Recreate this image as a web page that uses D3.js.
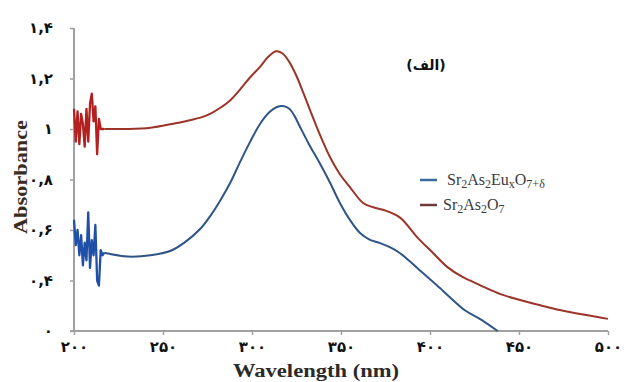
<!DOCTYPE html>
<html>
<head>
<meta charset="utf-8">
<script src="https://cdn.jsdelivr.net/npm/d3@7"></script>
<style>
  body { margin: 0; background: #fff; }
  svg { display: block; }
</style>
</head>
<body>
<svg id="chart" width="624" height="382"></svg>
<script>
// Wavelength (nm) and absorbance
const redWave = [200, 201, 202, 203, 204, 205, 206, 207, 208, 209, 210, 211, 212, 213, 214, 215, 216, 217,
    230, 243, 255, 265, 271, 277, 282, 288, 293, 299, 304.5, 309, 313.5, 317, 321, 325, 329, 332.6, 338, 343.8, 349, 355, 362.4, 368,
    373.6, 383, 392.7, 401.7, 409.6, 418, 428, 440, 450.6, 462, 473, 486, 500];
const redAbs = [1.08, 0.95, 1.07, 0.94, 1.06, 1.02, 0.93, 1.08, 0.95, 1.10, 1.14, 1.03, 1.09, 0.90, 1.04, 1.00, 1.00, 1.00,
    1.00, 1.005, 1.02, 1.035, 1.045, 1.062, 1.083, 1.115, 1.154, 1.205, 1.246, 1.285, 1.308, 1.30, 1.265, 1.21, 1.14, 1.075, 0.98, 0.889, 0.825, 0.77, 0.707, 0.69,
    0.68, 0.65, 0.572, 0.509, 0.454, 0.415, 0.382, 0.345, 0.323, 0.302, 0.283, 0.265, 0.248];

const blueWave = [200, 201, 202, 203, 204, 205, 206, 207, 208, 209, 210, 211, 212, 213, 214, 215, 216, 217,
    230, 243, 255, 262, 271, 277, 282, 288, 293, 299, 304.5, 310, 314, 317.4, 321, 324, 327, 332, 338, 344, 349.4, 355, 360.7, 366, 372, 378,
    383, 388, 394, 400, 405.6, 411, 420, 428, 438];
const blueAbs = [0.64, 0.54, 0.60, 0.50, 0.58, 0.46, 0.55, 0.48, 0.67, 0.45, 0.56, 0.50, 0.62, 0.40, 0.38, 0.52, 0.50, 0.51,
    0.495, 0.50, 0.52, 0.55, 0.605, 0.66, 0.715, 0.79, 0.865, 0.95, 1.02, 1.068, 1.087, 1.091, 1.08, 1.05, 1.008, 0.94, 0.865, 0.785, 0.707, 0.64, 0.588, 0.562, 0.548, 0.53,
    0.509, 0.48, 0.442, 0.405, 0.37, 0.335, 0.28, 0.248, 0.2];

const xTicks = [200, 250, 300, 350, 400, 450, 500];
const xTickLabels = ['۲۰۰', '۲۵۰', '۳۰۰', '۳۵۰', '۴۰۰', '۴۵۰', '۵۰۰'];
const yTicks = [0.2, 0.4, 0.6, 0.8, 1.0, 1.2, 1.4];
const yTickLabels = ['۰', '۰,۴', '۰,۶', '۰,۸', '۱', '۱,۲', '۱,۴'];

const seriesNames = ['Sr2As2EuxO7+δ', 'Sr2As2O7'];

const svg = d3.select('#chart');
const margin = { left: 74, right: 16, top: 28, bottom: 51 };
const width = 624, height = 382;

const x = d3.scaleLinear().domain([200, 500]).range([margin.left, width - margin.right]);
const y = d3.scaleLinear().domain([0.2, 1.4]).range([height - margin.bottom, margin.top]);

const digitFont = '"DejaVu Sans", sans-serif';
const serif = '"Liberation Serif", "Times New Roman", serif';

// Axes
const xAxis = svg.append('g')
    .attr('transform', `translate(0,${y(0.2)})`)
    .call(d3.axisBottom(x).tickValues(xTicks).tickSize(4).tickFormat((d, i) => xTickLabels[i]));
const yAxis = svg.append('g')
    .attr('transform', `translate(${x(200)},0)`)
    .call(d3.axisLeft(y).tickValues(yTicks).tickSize(4).tickFormat((d, i) => yTickLabels[i]));

[xAxis, yAxis].forEach(a => {
    a.select('.domain').attr('stroke', '#a0a0a0').attr('stroke-width', 2);
    a.selectAll('.tick line').attr('stroke', '#a0a0a0').attr('stroke-width', 1.5);
    a.selectAll('.tick text')
        .attr('font-family', digitFont)
        .attr('font-weight', 'bold')
        .attr('font-size', '15px')
        .attr('fill', '#111');
});
xAxis.select('.domain').attr('d', `M${x(200) - 4},0H${x(500)}`);
xAxis.selectAll('.tick text').attr('dy', '0.95em');
yAxis.select('.domain').attr('d', `M0,${y(1.4)}V${y(0.2)}`);
yAxis.selectAll('.tick text').attr('x', -21);

// Lines: noisy start drawn straight, the rest smoothed
const noiseLine = d3.line().x(d => x(d[0])).y(d => y(d[1]));
const smoothLine = d3.line().x(d => x(d[0])).y(d => y(d[1])).curve(d3.curveCatmullRom.alpha(0.5));

const redData = redWave.map((w, i) => [w, redAbs[i]]);
const blueData = blueWave.map((w, i) => [w, blueAbs[i]]);

function drawSeries(data, color, noiseColor) {
    svg.append('path')
        .datum(data.slice(17))
        .attr('fill', 'none')
        .attr('stroke', color)
        .attr('stroke-width', 2)
        .attr('d', smoothLine);
    svg.append('path')
        .datum(data.slice(0, 18))
        .attr('fill', 'none')
        .attr('stroke', noiseColor)
        .attr('stroke-width', 2.3)
        .attr('stroke-linejoin', 'round')
        .attr('d', noiseLine);
}
drawSeries(redData, '#9c3428', '#b41f1f');
drawSeries(blueData, '#2f5588', '#1f4fa6');

// Axis titles
svg.append('text')
    .attr('transform', 'translate(27,177) rotate(-90)')
    .attr('text-anchor', 'middle')
    .attr('font-family', serif)
    .attr('font-weight', 'bold')
    .attr('font-size', '19px')
    .attr('fill', '#3a2c1e')
    .attr('textLength', 114)
    .attr('lengthAdjust', 'spacingAndGlyphs')
    .text('Absorbance');

svg.append('text')
    .attr('x', 316)
    .attr('y', 377)
    .attr('text-anchor', 'middle')
    .attr('font-family', serif)
    .attr('font-weight', 'bold')
    .attr('font-size', '18px')
    .attr('fill', '#2a2a2a')
    .attr('textLength', 166)
    .attr('lengthAdjust', 'spacingAndGlyphs')
    .text('Wavelength (nm)');

// Panel label
svg.append('text')
    .attr('x', 426)
    .attr('y', 70)
    .attr('text-anchor', 'middle')
    .attr('font-family', digitFont)
    .attr('font-weight', 'bold')
    .attr('font-size', '14px')
    .attr('fill', '#111')
    .text('(الف)');

// Legend
const legend = svg.append('g');
const legendRows = [
    { color: '#3d6a9c', y: 180, x: 447, parts: [['Sr', 0], ['2', 1], ['As', 0], ['2', 1], ['Eu', 0], ['x', 1], ['O', 0], ['7+δ', 1]] },
    { color: '#6e3a38', y: 205, x: 443, parts: [['Sr', 0], ['2', 1], ['As', 0], ['2', 1], ['O', 0], ['7', 1]] }
];
legendRows.forEach((r, i) => {
    legend.append('line')
        .attr('x1', 420).attr('x2', 437)
        .attr('y1', r.y).attr('y2', r.y)
        .attr('stroke', r.color)
        .attr('stroke-width', 2.5);
    const t = legend.append('text')
        .attr('x', r.x)
        .attr('y', r.y + 5)
        .attr('font-family', serif)
        .attr('font-size', '16px')
        .attr('fill', '#3c3c3c')
        .attr('aria-label', seriesNames[i]);
    let sub = 0;
    r.parts.forEach(p => {
        const ts = t.append('tspan').text(p[0]);
        if (p[1] && !sub) { ts.attr('dy', 3).attr('font-size', '12px'); sub = 1; }
        else if (p[1]) { ts.attr('font-size', '12px'); }
        else if (sub) { ts.attr('dy', -3); sub = 0; }
    });
});
</script>
</body>
</html>
